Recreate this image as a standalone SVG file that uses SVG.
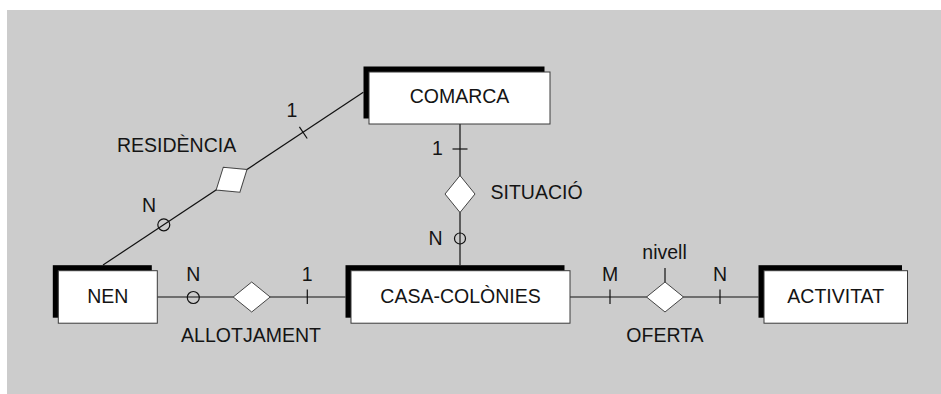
<svg xmlns="http://www.w3.org/2000/svg" width="941" height="394" viewBox="0 0 941 394">
<style>
.t{font-family:"Liberation Sans",Arial,sans-serif;font-size:19.5px;fill:#141414}
.c{text-anchor:middle}
.sh{fill:#000}
.bx{fill:#fff;stroke:#3a3a3a;stroke-width:1}
.ln{stroke:#111;stroke-width:1.2;fill:none}
.dm{fill:#fff;stroke:#444;stroke-width:1}
.ci{fill:none;stroke:#111;stroke-width:1.2}
</style>
<defs>
<polygon id="dia" points="-18.5,0 0,-15 18.5,0 0,15"/>
</defs>
<rect x="7" y="10" width="934" height="384" fill="#cccccc"/>

<g id="connectors">
  <!-- RESIDENCIA -->
  <line class="ln" x1="103" y1="265" x2="363.3" y2="92.3"/>
  <line class="ln" x1="299.4" y1="126.9" x2="307.2" y2="138.5"/>
  <circle class="ci" cx="163.8" cy="224.8" r="6"/>
  <use href="#dia" class="dm" transform="translate(231.6,179.7) rotate(-33.6)"/>
  <!-- SITUACIO -->
  <line class="ln" x1="460" y1="124" x2="460" y2="265"/>
  <line class="ln" x1="452.5" y1="149" x2="467.5" y2="149"/>
  <circle class="ci" cx="460" cy="238.5" r="5.5" fill="#ccc"/>
  <use href="#dia" class="dm" transform="translate(460,194) rotate(90)"/>
  <!-- ALLOTJAMENT -->
  <line class="ln" x1="157" y1="297" x2="345.5" y2="297"/>
  <circle class="ci" cx="193.3" cy="297.5" r="6"/>
  <line class="ln" x1="307.3" y1="289.5" x2="307.3" y2="304"/>
  <use href="#dia" class="dm" transform="translate(251.7,297)"/>
  <!-- OFERTA -->
  <line class="ln" x1="570" y1="297" x2="758.5" y2="297"/>
  <line class="ln" x1="610" y1="289.5" x2="610" y2="304"/>
  <line class="ln" x1="720" y1="289.5" x2="720" y2="304"/>
  <line class="ln" x1="665" y1="282" x2="665" y2="268"/>
  <use href="#dia" class="dm" transform="translate(665,297)"/>
</g>

<g id="labels">
  <text class="t c" x="292" y="117">1</text>
  <text class="t" x="117" y="152">RESIDÈNCIA</text>
  <text class="t c" x="149" y="212">N</text>
  <text class="t c" x="437.5" y="155">1</text>
  <text class="t" x="490.5" y="199">SITUACIÓ</text>
  <text class="t c" x="435.5" y="245">N</text>
  <text class="t c" x="193.3" y="280.5">N</text>
  <text class="t c" x="307.3" y="280.5">1</text>
  <text class="t c" x="251" y="341.5">ALLOTJAMENT</text>
  <text class="t c" x="610" y="280.5">M</text>
  <text class="t c" x="720" y="280.5">N</text>
  <text class="t c" x="664.5" y="259">nivell</text>
  <text class="t c" x="665" y="341.5">OFERTA</text>
</g>

<g id="COMARCA">
  <rect class="sh" x="363.5" y="66.5" width="181" height="52"/>
  <rect class="bx" x="369" y="72" width="181" height="52"/>
  <text class="t c" x="459.5" y="103">COMARCA</text>
</g>
<g id="NEN">
  <rect class="sh" x="52.8" y="265.2" width="99" height="52.5"/>
  <rect class="bx" x="58.3" y="270.7" width="99" height="52.5"/>
  <text class="t c" x="107.8" y="302.5">NEN</text>
</g>
<g id="CASA-COLONIES">
  <rect class="sh" x="345.5" y="265.2" width="219" height="52.5"/>
  <rect class="bx" x="351" y="270.7" width="219" height="52.5"/>
  <text class="t c" x="460.5" y="302.5">CASA-COLÒNIES</text>
</g>
<g id="ACTIVITAT">
  <rect class="sh" x="758.5" y="265.2" width="143.5" height="52.5"/>
  <rect class="bx" x="764" y="270.7" width="143.5" height="52.5"/>
  <text class="t c" x="835.7" y="302.5">ACTIVITAT</text>
</g>
</svg>
